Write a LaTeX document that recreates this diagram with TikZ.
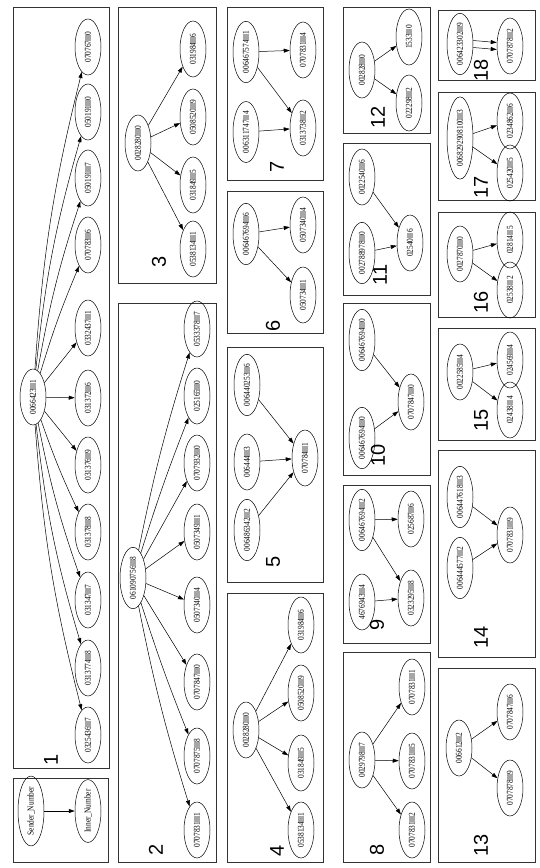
\documentclass[tikz,border=0pt]{standalone}
\usepackage{fontspec}
\setmainfont{Liberation Serif}[FakeStretch=0.82]
\newfontfamily\lblf{Liberation Sans}
\usetikzlibrary{shapes.geometric,arrows.meta}
\newcommand\rd{{\color{gray!70}\rule[-0.2pt]{5.5pt}{6.2pt}}}
\begin{document}
\begin{tikzpicture}[x=1pt,y=-1pt,
  nd/.style={draw, ellipse, rotate=90, minimum width=56pt, minimum height=26pt, inner xsep=0.5pt, inner ysep=1pt, font=\fontsize{9}{10}\selectfont, line width=0.5pt},
  clus/.style={draw, line width=0.6pt, black!80},
  num/.style={rotate=90, font=\lblf\fontsize{20}{20}\selectfont, inner sep=0pt},
  arr/.style={-{Triangle[length=6pt,width=4pt]}, line width=0.5pt}]
\useasboundingbox (0,0) rectangle (540,868);
% ---------- cluster boxes ----------
\draw[clus] (13,778) rectangle (108,862);
\draw[clus] (13,7) rectangle (109,768);
\draw[clus] (118,7) rectangle (216,283);
\draw[clus] (118,303) rectangle (216,862);
\draw[clus] (227,7) rectangle (323,180);
\draw[clus] (227,191) rectangle (323,333);
\draw[clus] (227,347) rectangle (323,582);
\draw[clus] (227,593) rectangle (323,862);
\draw[clus] (343,7) rectangle (430,133);
\draw[clus] (343,143) rectangle (430,295);
\draw[clus] (343,303) rectangle (430,475);
\draw[clus] (343,485) rectangle (430,643);
\draw[clus] (343,652) rectangle (430,862);
\draw[clus] (438,10) rectangle (535,80);
\draw[clus] (438,92) rectangle (535,200);
\draw[clus] (438,212) rectangle (535,317);
\draw[clus] (438,328) rectangle (535,440);
\draw[clus] (438,450) rectangle (535,657);
\draw[clus] (438,668) rectangle (535,862);
% ---------- legend ----------
\node[nd] (ls) at (31,811) {Sender\_Number};
\node[nd] (li) at (88,811) {Inner\_Number};
\draw[arr] (ls) -- (li);
% ---------- cluster 1 ----------
\node[nd] (r1) at (33,397) {0066423\rd1};
\node[nd] (c1a) at (88,47) {070767\rd0};
\node[nd] (c1b) at (88,112) {050191\rd0};
\node[nd] (c1c) at (88,178) {050191\rd7};
\node[nd] (c1d) at (88,245) {070783\rd6};
\node[nd] (c1e) at (88,328) {0332437\rd1};
\node[nd] (c1f) at (88,398) {031372\rd6};
\node[nd] (c1g) at (88,465) {031376\rd9};
\node[nd] (c1h) at (88,532) {031378\rd8};
\node[nd] (c1i) at (88,600) {031347\rd7};
\node[nd] (c1j) at (88,668) {0313774\rd8};
\node[nd] (c1k) at (88,735) {0325436\rd7};
\draw[arr] (r1) to[bend left=5] (c1a);
\draw[arr] (r1) to[bend left=5] (c1b);
\draw[arr] (r1) to[bend left=4] (c1c);
\draw[arr] (r1) to[bend left=3] (c1d);
\draw[arr] (r1) -- (c1e);
\draw[arr] (r1) -- (c1f);
\draw[arr] (r1) -- (c1g);
\draw[arr] (r1) to[bend right=3] (c1h);
\draw[arr] (r1) to[bend right=4] (c1i);
\draw[arr] (r1) to[bend right=5] (c1j);
\draw[arr] (r1) to[bend right=5] (c1k);
\node[num] (n1) at (51,760) {1};
% ---------- cluster 2 ----------
\node[nd] (r2) at (133,578) {061090756\rd8};
\node[nd] (c2a) at (197,329) {0533378\rd7};
\node[nd] (c2b) at (197,396) {025165\rd0};
\node[nd] (c2c) at (197,463) {0707932\rd0};
\node[nd] (c2d) at (197,532) {0507349\rd1};
\node[nd] (c2e) at (197,605) {0507340\rd4};
\node[nd] (c2f) at (197,682) {0707847\rd0};
\node[nd] (c2g) at (197,756) {0707875\rd8};
\node[nd] (c2h) at (197,830) {0707831\rd1};
\draw[arr] (r2) to[bend left=3] (c2a);
\draw[arr] (r2) to[bend left=2] (c2b);
\draw[arr] (r2) -- (c2c);
\draw[arr] (r2) -- (c2d);
\draw[arr] (r2) -- (c2e);
\draw[arr] (r2) -- (c2f);
\draw[arr] (r2) to[bend right=2] (c2g);
\draw[arr] (r2) to[bend right=3] (c2h);
\node[num] (n2) at (156,850) {2};
% ---------- cluster 3 ----------
\node[nd] (r3) at (138,143) {0028280\rd0};
\node[nd] (c3a) at (193,49) {031984\rd6};
\node[nd] (c3b) at (193,117) {0508520\rd9};
\node[nd] (c3c) at (193,185) {031849\rd5};
\node[nd] (c3d) at (193,249) {0538134\rd1};
\foreach \c in {c3a,c3b,c3c,c3d} \draw[arr] (r3) -- (\c);
\node[num] (n3) at (159,262) {3};
% ---------- cluster 4 ----------
\node[nd] (r4) at (246,730) {0028280\rd0};
\node[nd] (c4a) at (301,625) {031984\rd6};
\node[nd] (c4b) at (301,693) {0508520\rd9};
\node[nd] (c4c) at (301,763) {031849\rd5};
\node[nd] (c4d) at (301,830) {0538134\rd1};
\foreach \c in {c4a,c4b,c4c,c4d} \draw[arr] (r4) -- (\c);
\node[num] (n4) at (277,851) {4};
% ---------- cluster 5 ----------
\node[nd] (s5a) at (247,385) {006440253\rd6};
\node[nd] (s5b) at (247,462) {006444\rd3};
\node[nd] (s5c) at (247,530) {006486342\rd2};
\node[nd] (t5) at (305,458) {070784\rd1};
\foreach \c in {s5a,s5b,s5c} \draw[arr] (\c) -- (t5);
\node[num] (n5) at (273,562) {5};
% ---------- cluster 6 ----------
\node[nd] (r6) at (246,234) {006467694\rd6};
\node[nd] (c6a) at (303,225) {0507340\rd4};
\node[nd] (c6b) at (303,295) {050734\rd1};
\draw[arr] (r6) -- (c6a);
\draw[arr] (r6) -- (c6b);
\node[num] (n6) at (273,326) {6};
% ---------- cluster 7 ----------
\node[nd] (s7a) at (246,52) {006467574\rd1};
\node[nd] (s7b) at (246,132) {006311747\rd4};
\node[nd] (t7a) at (303,50) {0707831\rd4};
\node[nd] (t7b) at (303,128) {0313738\rd2};
\draw[arr] (s7a) -- (t7a);
\draw[arr] (s7a) -- (t7b);
\draw[arr] (s7b) -- (t7b);
\node[num] (n7) at (277,167) {7};
% ---------- cluster 8 ----------
\node[nd] (r8) at (362,760) {0029798\rd7};
\node[nd] (c8a) at (412,687) {0707831\rd1};
\node[nd] (c8b) at (412,761) {0707831\rd5};
\node[nd] (c8c) at (412,830) {0707831\rd2};
\foreach \c in {c8a,c8b,c8c} \draw[arr] (r8) -- (\c);
\node[num] (n8) at (377,850) {8};
% ---------- cluster 9 ----------
\node[nd] (s9a) at (362,520) {006467694\rd2};
\node[nd] (s9b) at (362,602) {4676943\rd4};
\node[nd] (t9a) at (411,519) {025687\rd6};
\node[nd] (t9b) at (411,598) {0323295\rd8};
\draw[arr] (s9a) -- (t9a);
\draw[arr] (s9a) -- (t9b);
\draw[arr] (s9b) -- (t9b);
\node[num] (n9) at (377,625) {9};
% ---------- cluster 10 ----------
\node[nd] (s10a) at (362,340) {006467694\rd0};
\node[nd] (s10b) at (362,438) {006467694\rd0};
\node[nd] (t10) at (411,402) {0707847\rd0};
\draw[arr] (s10a) -- (t10);
\draw[arr] (s10b) -- (t10);
\node[num] (n10) at (378,455) {10};
% ---------- cluster 11 ----------
\node[nd] (s11a) at (362,177) {0022540\rd6};
\node[nd] (s11b) at (362,253) {002788978\rd0};
\node[nd] (t11) at (410,243) {02540\rd6};
\draw[arr] (s11a) -- (t11);
\draw[arr] (s11b) -- (t11);
\node[num] (n11) at (380,275) {11};
% ---------- cluster 12 ----------
\node[nd] (r12) at (362,70) {002828\rd0};
\node[nd] (c12a) at (409,37) {1533\rd0};
\node[nd] (c12b) at (409,103) {022298\rd2};
\draw[arr] (r12) -- (c12a);
\draw[arr] (r12) -- (c12b);
\node[num] (n12) at (378,117) {12};
% ---------- cluster 13 ----------
\node[nd] (r13) at (459,748) {006612\rd2};
\node[nd] (c13a) at (510,712) {0707847\rd6};
\node[nd] (c13b) at (510,788) {0707878\rd9};
\draw[arr] (r13) -- (c13a);
\draw[arr] (r13) -- (c13b);
\node[num] (n13) at (481,845) {13};
% ---------- cluster 14 ----------
\node[nd] (s14a) at (460,497) {006447618\rd3};
\node[nd] (s14b) at (460,568) {006444577\rd2};
\node[nd] (t14) at (510,535) {0707831\rd9};
\draw[arr] (s14a) -- (t14);
\draw[arr] (s14b) -- (t14);
\node[num] (n14) at (481,637) {14};
% ---------- cluster 15 ----------
\node[nd] (r15) at (460,372) {0022585\rd4};
\node[nd] (c15a) at (510,360) {024569\rd4};
\node[nd] (c15b) at (510,410) {02438\rd4};
\draw[arr] (r15) -- (c15a);
\draw[arr] (r15) -- (c15b);
\node[num] (n15) at (481,420) {15};
% ---------- cluster 16 ----------
\node[nd] (r16) at (460,254) {0027870\rd0};
\node[nd] (c16a) at (510,240) {02814\rd5};
\node[nd] (c16b) at (510,290) {02538\rd2};
\draw[arr] (r16) -- (c16a);
\draw[arr] (r16) -- (c16b);
\node[num] (n16) at (481,302) {16};
% ---------- cluster 17 ----------
\node[nd] (r17) at (460,138) {0068292908100\rd3};
\node[nd] (c17a) at (510,121) {0234862\rd6};
\node[nd] (c17b) at (510,173) {025420\rd5};
\draw[arr] (r17) -- (c17a);
\draw[arr] (r17) -- (c17b);
\node[num] (n17) at (481,187) {17};
% ---------- cluster 18 ----------
\node[nd] (r18) at (460,44) {006423302\rd9};
\node[nd] (c18) at (510,46) {0707878\rd2};
\draw[arr] ([yshift=3.5pt]r18.south) -- ([yshift=3.5pt]c18.north);
\draw[arr] ([yshift=-3.5pt]r18.south) -- ([yshift=-3.5pt]c18.north);
\node[num] (n18) at (481,70) {18};
\end{tikzpicture}
\end{document}
